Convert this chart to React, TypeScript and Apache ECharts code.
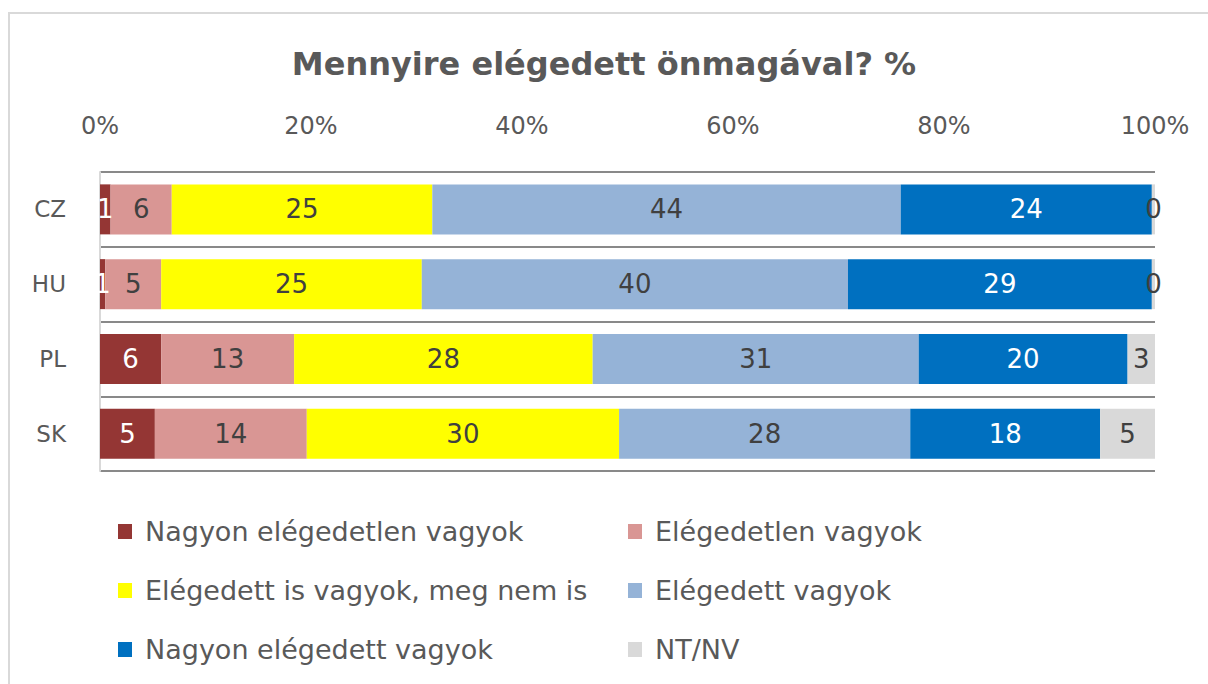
import React, { useEffect, useRef } from "react";
import * as echarts from "echarts";

const categories = ["CZ", "HU", "PL", "SK"];
const seriesNames = [
  "Nagyon elégedetlen vagyok",
  "Elégedetlen vagyok",
  "Elégedett is vagyok, meg nem is",
  "Elégedett vagyok",
  "Nagyon elégedett vagyok",
  "NT/NV",
];
const veryDissatisfied = [1.0, 0.5, 5.8, 5.2];
const dissatisfied = [5.8, 5.3, 12.6, 14.4];
const neutral = [24.7, 24.7, 28.3, 29.6];
const satisfied = [44.4, 40.4, 30.9, 27.6];
const verySatisfied = [23.8, 28.8, 19.8, 18.0];
const dontKnow = [0.3, 0.3, 2.6, 5.2];
const tickLabels = ["0%", "20%", "40%", "60%", "80%", "100%"];

const seriesData = [veryDissatisfied, dissatisfied, neutral, satisfied, verySatisfied, dontKnow];
const colors = ["#943634", "#D99694", "#FFFF00", "#95B3D7", "#0070C0", "#D9D9D9"];
const labelColors = ["#FFFFFF", "#404040", "#404040", "#404040", "#FFFFFF", "#404040"];

const FONT = "'DejaVu Sans', sans-serif";

export default function App() {
  const ref = useRef<HTMLDivElement>(null);
  useEffect(() => {
    if (!ref.current) return;
    const chart = echarts.init(ref.current, undefined, { renderer: "svg" });
    const legendText = { fontFamily: FONT, fontSize: 27, color: "#595959", padding: [0, 0, 0, 8] };
    chart.setOption({
      animation: false,
      backgroundColor: "#FFFFFF",
      textStyle: { fontFamily: FONT },
      title: {
        text: "Mennyire elégedett önmagával? %",
        left: "center",
        top: 43,
        textStyle: { fontFamily: FONT, fontSize: 32, fontWeight: "bold", color: "#595959" },
      },
      graphic: [
        {
          type: "rect",
          shape: { x: 9, y: 13, width: 1260, height: 720 },
          style: { fill: "none", stroke: "#D9D9D9", lineWidth: 2 },
          silent: true,
        },
      ],
      legend: [
        {
          orient: "vertical",
          left: 113,
          top: 513,
          itemWidth: 14,
          itemHeight: 15,
          itemGap: 32,
          icon: "rect",
          data: [seriesNames[0], seriesNames[2], seriesNames[4]],
          textStyle: legendText,
        },
        {
          orient: "vertical",
          left: 623,
          top: 513,
          itemWidth: 14,
          itemHeight: 15,
          itemGap: 32,
          icon: "rect",
          data: [seriesNames[1], seriesNames[3], seriesNames[5]],
          textStyle: legendText,
        },
      ],
      grid: { left: 100, right: 53, top: 172, bottom: 213, containLabel: false },
      xAxis: {
        type: "value",
        position: "top",
        min: 0,
        max: 100,
        interval: 20,
        axisLine: { show: false },
        axisTick: { show: false },
        splitLine: { show: false },
        axisLabel: {
          fontFamily: FONT,
          fontSize: 24,
          color: "#595959",
          margin: 34,
          formatter: (v: number) => tickLabels[Math.round(v / 20)],
        },
      },
      yAxis: {
        type: "category",
        inverse: true,
        data: categories,
        axisLine: { show: true, lineStyle: { color: "#D9D9D9", width: 2 } },
        axisTick: { show: false },
        splitLine: { show: true, lineStyle: { color: "#898989", width: 2 } },
        axisLabel: { fontFamily: FONT, fontSize: 23, color: "#595959", margin: 34 },
      },
      series: seriesData.map((d, i) => ({
        name: seriesNames[i],
        type: "bar",
        stack: "total",
        barWidth: 50,
        data: d,
        itemStyle: { color: colors[i] },
        label: {
          show: true,
          position: "inside",
          fontFamily: FONT,
          fontSize: 26,
          color: labelColors[i],
          formatter: (p: any) => String(Math.round(p.value)),
        },
      })),
    });
    return () => chart.dispose();
  }, []);
  return (
    <div
      ref={ref}
      style={{ position: "fixed", left: 0, top: 0, width: 1208, height: 684 }}
    />
  );
}
